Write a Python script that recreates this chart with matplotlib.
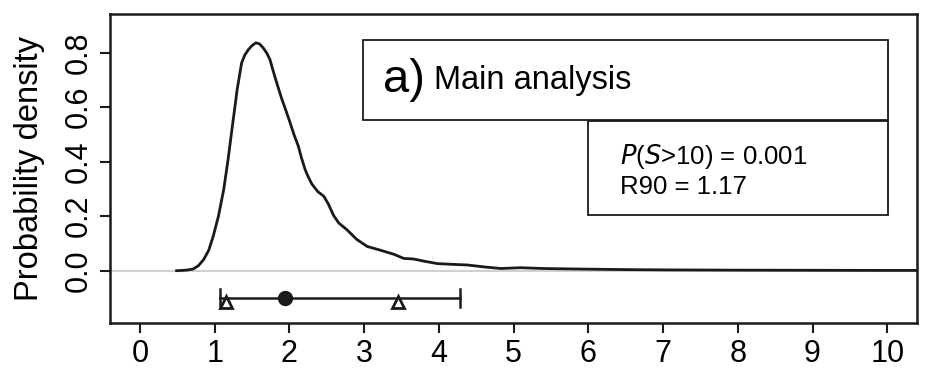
import numpy as np
import matplotlib.pyplot as plt
from matplotlib.patches import Rectangle

plt.rcParams['font.family'] = ['Liberation Sans', 'DejaVu Sans']

# density curve
sens_x = [0.49, 0.62, 0.71, 0.78, 0.85, 0.92, 0.98, 1.05, 1.12, 1.18, 1.23, 1.27, 1.30,
          1.36, 1.40, 1.45, 1.50, 1.55, 1.60, 1.65, 1.70, 1.74, 1.78, 1.83, 1.90, 1.95,
          2.01, 2.06, 2.12, 2.16, 2.21, 2.25, 2.30, 2.38, 2.46, 2.52, 2.59, 2.66, 2.77,
          2.90, 3.04, 3.22, 3.40, 3.53, 3.66, 3.80, 3.98, 4.20, 4.38, 4.60, 4.83, 5.09,
          5.40, 5.90, 6.50, 7.00, 8.00, 9.00, 10.0, 10.5]
dens = [0.0, 0.002, 0.006, 0.018, 0.04, 0.075, 0.126, 0.20, 0.297, 0.41, 0.517, 0.60, 0.664,
        0.762, 0.79, 0.811, 0.826, 0.836, 0.832, 0.817, 0.797, 0.774, 0.735, 0.689, 0.628, 0.59,
        0.542, 0.50, 0.456, 0.415, 0.371, 0.345, 0.318, 0.29, 0.273, 0.245, 0.203, 0.175, 0.150,
        0.115, 0.089, 0.075, 0.060, 0.045, 0.043, 0.035, 0.026, 0.023, 0.021, 0.014, 0.008, 0.011,
        0.008, 0.006, 0.004, 0.003, 0.002, 0.0015, 0.001, 0.001]

# summary under the curve: 5-95% range, median, 17-83% range
ci_low, ci_high = 1.07, 4.28
median = 1.94
likely = [1.15, 3.45]

title_letter = "a)"
title_text = "Main analysis"
stats_lines = [r"$\it{P}$($\it{S}$>10) = 0.001", "R90 = 1.17"]

fig = plt.figure(figsize=(9.33, 3.87), dpi=100)
ax = fig.add_axes([0.118, 0.166, 0.865, 0.798])

ax.axhline(0, color='#d0d0d0', lw=1.5, zorder=1)
ax.plot(sens_x, dens, color='#1a1a1a', lw=2, zorder=2, solid_joinstyle='round')

# error bar row
yb = -0.1
ax.plot([ci_low, ci_high], [yb, yb], color='#1a1a1a', lw=1.8)
ax.plot([ci_low, ci_low], [yb - 0.034, yb + 0.034], color='#1a1a1a', lw=1.8)
ax.plot([ci_high, ci_high], [yb - 0.034, yb + 0.034], color='#1a1a1a', lw=1.8)
ax.plot([median], [yb], 'o', color='#1a1a1a', ms=10)
ax.plot(likely, [yb - 0.016] * 2, '^', mfc='white', mec='#1a1a1a', mew=2, ms=9)

# boxes with titles
ax.add_patch(Rectangle((2.99, 0.554), 7.02, 0.294, fill=False, ec='#1a1a1a', lw=1.3))
ax.add_patch(Rectangle((6.0, 0.206), 4.01, 0.342, fill=False, ec='#1a1a1a', lw=1.3))
ax.text(3.25, 0.70, title_letter, fontsize=34, va='center', ha='left')
ax.text(3.93, 0.697, title_text, fontsize=23.5, va='center', ha='left')
ax.text(6.43, 0.419, stats_lines[0], fontsize=18.5, va='center', ha='left')
ax.text(6.43, 0.308, stats_lines[1], fontsize=18.5, va='center', ha='left')

ax.set_xlim(-0.4, 10.4)
ax.set_ylim(-0.191, 0.942)
ax.set_xticks(range(0, 11))
ax.set_yticks([0.0, 0.2, 0.4, 0.6, 0.8])
ax.set_yticklabels(["0.0", "0.2", "0.4", "0.6", "0.8"], rotation=90, va='center')
ax.tick_params(labelsize=22, length=7, width=1.5, color='#1a1a1a', pad=5)
for s in ax.spines.values():
    s.set_linewidth(1.8)
    s.set_color('#1a1a1a')
ax.set_ylabel("Probability density", fontsize=23.5, labelpad=13)

plt.savefig("out.png", dpi=100)
